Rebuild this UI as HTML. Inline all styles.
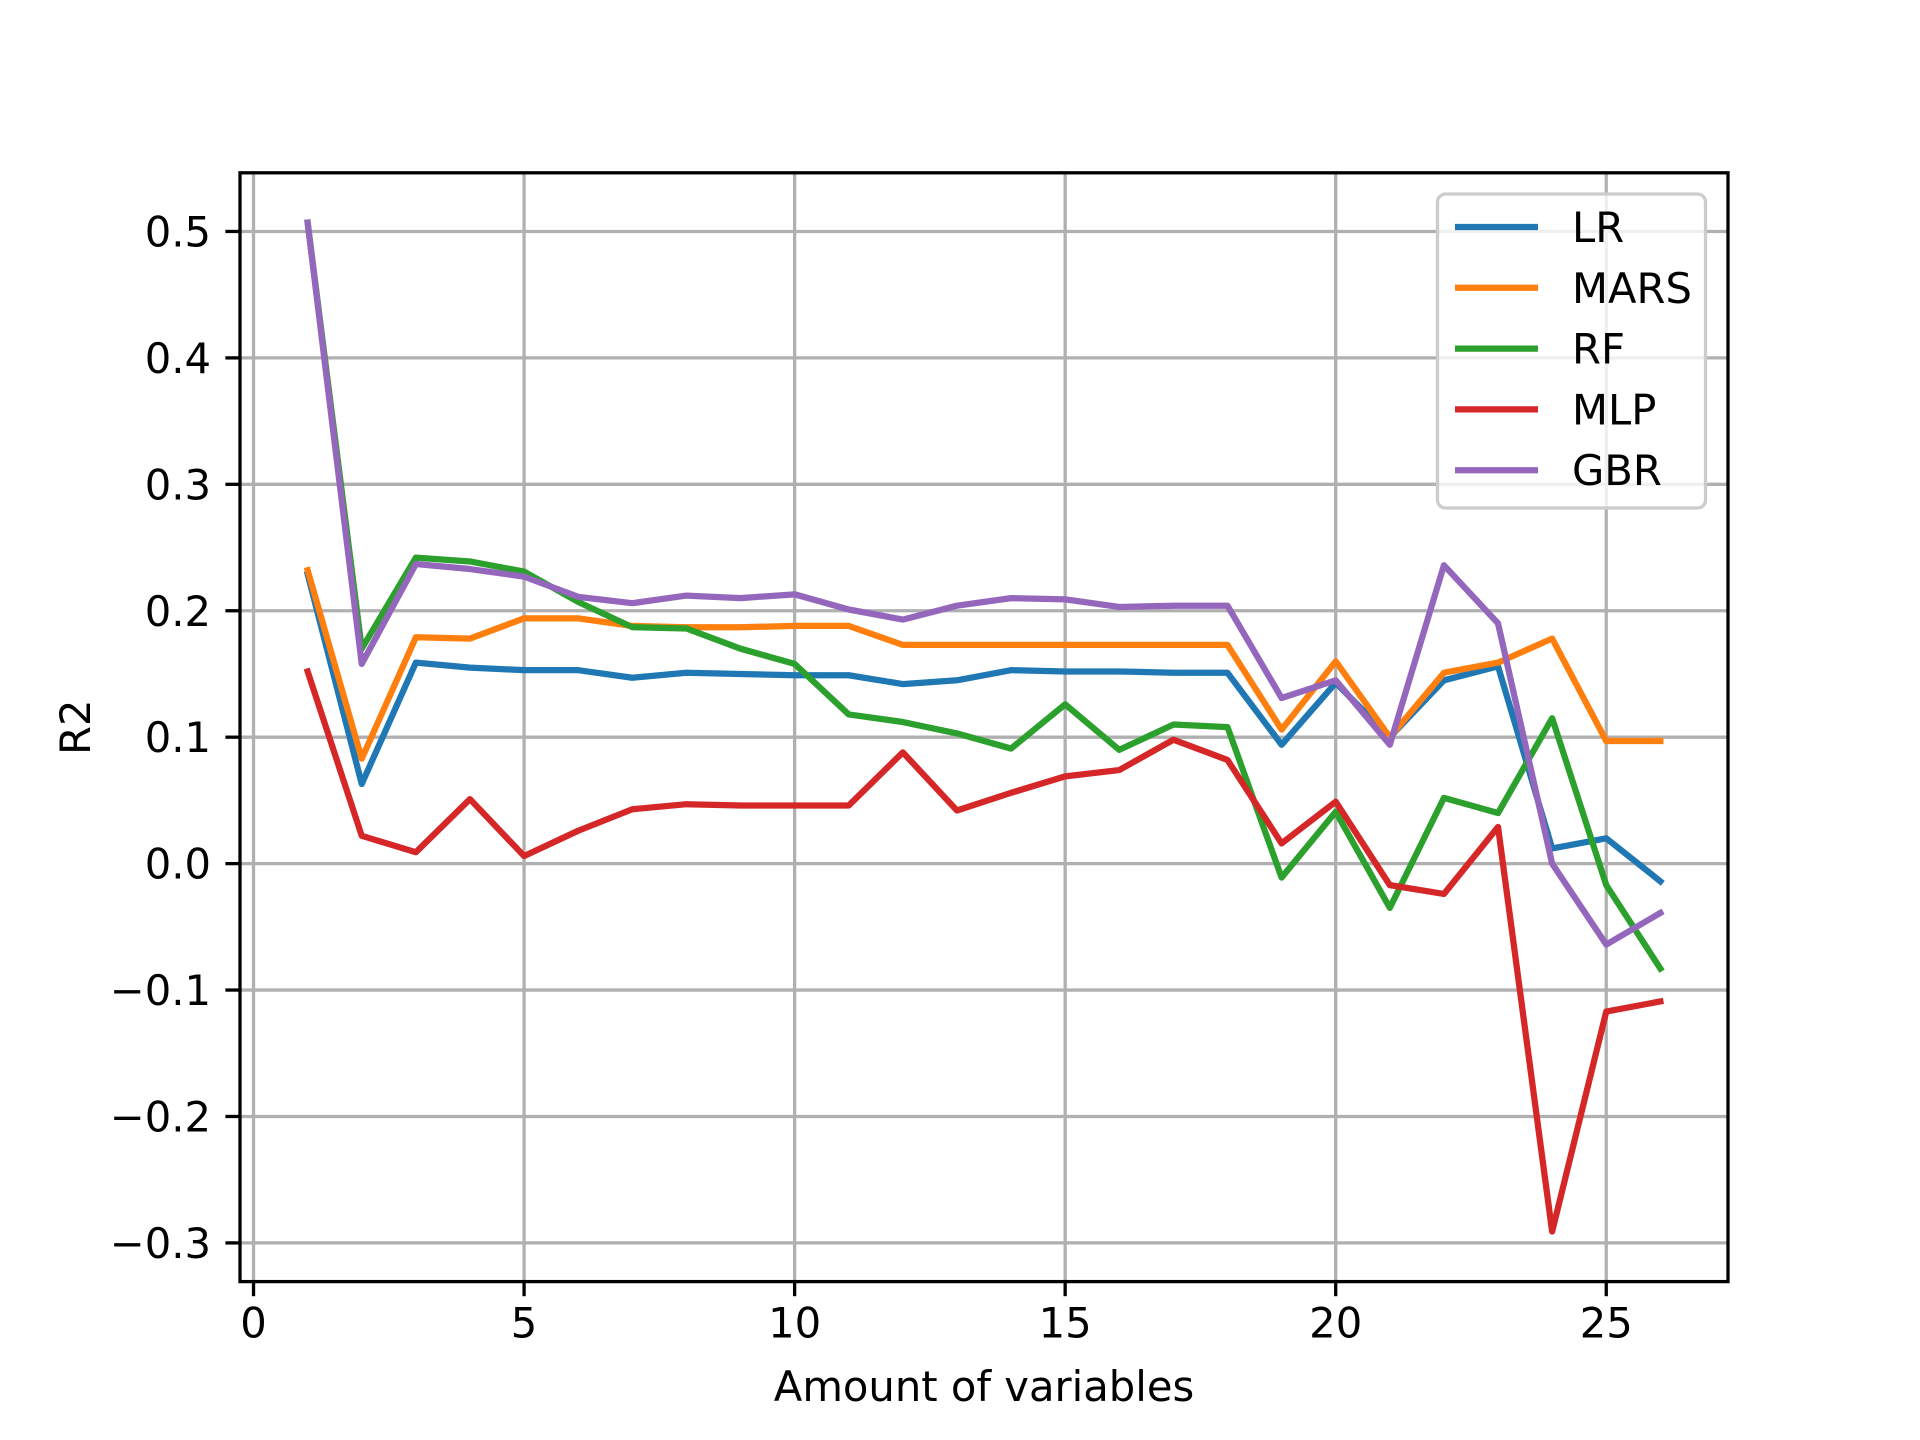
<!DOCTYPE html>
<html><head><meta charset="utf-8"><style>
html,body{margin:0;padding:0;background:#fff}
svg{display:block;font-family:"DejaVu Sans","Liberation Sans",sans-serif}
</style></head><body>
<svg id="chart" width="1920" height="1440" viewBox="0 0 1920 1440" xmlns="http://www.w3.org/2000/svg">
<rect width="1920" height="1440" fill="#fff"/>
<g id="grid"></g><g id="series"></g><g id="axes"></g><g id="legend"></g>
</svg>
<script>
const xs=[1,2,3,4,5,6,7,8,9,10,11,12,13,14,15,16,17,18,19,20,21,22,23,24,25,26];
const LR=[0.229,0.063,0.159,0.155,0.153,0.153,0.147,0.151,0.150,0.149,0.149,0.142,0.145,0.153,0.152,0.152,0.151,0.151,0.094,0.143,0.100,0.145,0.156,0.012,0.020,-0.014];
const MARS=[0.232,0.083,0.179,0.178,0.194,0.194,0.188,0.187,0.187,0.188,0.188,0.173,0.173,0.173,0.173,0.173,0.173,0.173,0.106,0.160,0.100,0.151,0.159,0.178,0.097,0.097];
const RF=[0.507,0.170,0.242,0.239,0.231,0.207,0.187,0.186,0.170,0.158,0.118,0.112,0.103,0.091,0.126,0.090,0.110,0.108,-0.011,0.041,-0.035,0.052,0.040,0.115,-0.017,-0.083];
const MLP=[0.152,0.022,0.009,0.051,0.006,0.026,0.043,0.047,0.046,0.046,0.046,0.088,0.042,0.056,0.069,0.074,0.098,0.082,0.016,0.049,-0.017,-0.024,0.029,-0.291,-0.117,-0.109];
const GBR=[0.507,0.158,0.237,0.233,0.227,0.211,0.206,0.212,0.210,0.213,0.201,0.193,0.204,0.210,0.209,0.203,0.204,0.204,0.131,0.145,0.094,0.236,0.190,0.000,-0.064,-0.039];
const seriesNames=["LR","MARS","RF","MLP","GBR"];
const seriesData=[LR,MARS,RF,MLP,GBR];
const seriesColors=["#1f77b4","#ff7f0e","#2ca02c","#d62728","#9467bd"];
const xTicks=[0,5,10,15,20,25];
const yTicks=[0.5,0.4,0.3,0.2,0.1,0.0,-0.1,-0.2,-0.3];
const yTickLabels=["0.5","0.4","0.3","0.2","0.1","0.0","\u22120.1","\u22120.2","\u22120.3"];

const L=240,R=1728,T=172.8,B=1281.6;
const xmin=-0.25,xmax=27.25,ymin=-0.3306,ymax=0.5464;
const X=v=>L+(v-xmin)/(xmax-xmin)*(R-L);
const Y=v=>B-(v-ymin)/(ymax-ymin)*(B-T);
const NS="http://www.w3.org/2000/svg";
function mk(parent,tag,attrs,text){const e=document.createElementNS(NS,tag);for(const k in attrs)e.setAttribute(k,attrs[k]);if(text!==undefined)e.textContent=text;document.getElementById(parent).appendChild(e);return e;}

xTicks.forEach(t=>{
 const g=mk('grid','line',{x1:X(t),x2:X(t),y1:T,y2:B,stroke:'#b0b0b0','stroke-width':3.3});
 
 
 const tk=mk('axes','line',{x1:X(t),x2:X(t),y1:B,y2:B+14.6,stroke:'#000','stroke-width':3.3});
 
 
 const lb=mk('axes','text',{x:X(t),y:B+56,'font-size':41.7,'text-anchor':'middle',fill:'#000'},String(t));
 
 
});
yTicks.forEach((t,i)=>{
 const g=mk('grid','line',{x1:L,x2:R,y1:Y(t),y2:Y(t),stroke:'#b0b0b0','stroke-width':3.3});
 
 
 const tk=mk('axes','line',{x1:L-14.6,x2:L,y1:Y(t),y2:Y(t),stroke:'#000','stroke-width':3.3});
 
 
 const lb=mk('axes','text',{x:L-29,y:Y(t)+15,'font-size':41.7,'text-anchor':'end',fill:'#000'},yTickLabels[i]);
 
 
});
seriesData.forEach((d,i)=>{
 const p=mk('series','polyline',{points:d.map((v,j)=>X(xs[j])+','+Y(v)).join(' '),fill:'none',stroke:seriesColors[i],'stroke-width':6.25,'stroke-linejoin':'round','stroke-linecap':'square'});
 
 
});
const fr=mk('axes','rect',{x:L,y:T,width:R-L,height:B-T,fill:'none',stroke:'#000','stroke-width':3.3});


const xl=mk('axes','text',{x:(L+R)/2,y:1401,'font-size':41.7,'text-anchor':'middle',fill:'#000'},'Amount of variables');


const yl=mk('axes','text',{x:0,y:0,'font-size':41.7,'text-anchor':'middle',fill:'#000',transform:'translate(90,'+((T+B)/2)+') rotate(-90)'},'R2');


const lbox=mk('legend','rect',{x:1437.5,y:194,width:268,height:314,rx:8,fill:'#fff','fill-opacity':0.8,stroke:'#cccccc','stroke-width':3.3});


seriesNames.forEach((n,i)=>{
 const yy=227+i*60.8;
 const ln=mk('legend','line',{x1:1455,x2:1538,y1:yy,y2:yy,stroke:seriesColors[i],'stroke-width':6.25});
 
 
 const tx=mk('legend','text',{x:1572,y:yy+15,'font-size':41.7,fill:'#000'},n);
 
 
});
</script>
</body></html>
